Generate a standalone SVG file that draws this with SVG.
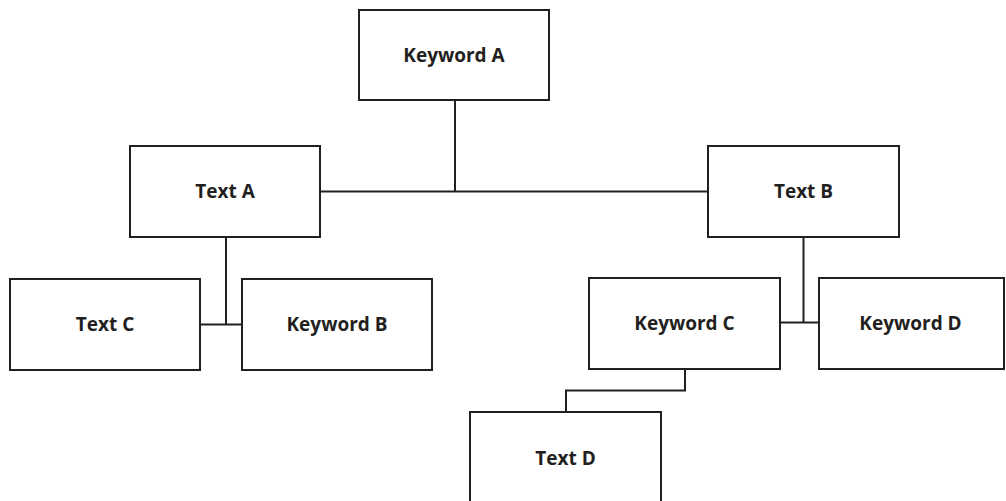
<svg xmlns="http://www.w3.org/2000/svg" width="1006" height="501" viewBox="0 0 1006 501">
<style>
.box{fill:#fff;stroke:#231f20;stroke-width:2}
.lbl{font-family:"Open Sans","Liberation Sans",sans-serif;font-weight:700;font-size:19px;fill:#231f20;text-anchor:middle;dominant-baseline:central}
.conn{fill:none;stroke:#231f20;stroke-width:2}
</style>
<rect width="1006" height="501" fill="#fff"/>
<g id="connectors">
<path class="conn" d="M455,100 V191.5"/>
<path class="conn" d="M320,191.5 H708"/>
<path class="conn" d="M226,237 V324.5"/>
<path class="conn" d="M200,324.5 H242"/>
<path class="conn" d="M803.5,237 V322.5"/>
<path class="conn" d="M780,322.5 H819"/>
<path class="conn" d="M685,369 V390.5 H566 V412"/>
</g>
<g id="keywordA"><rect class="box" x="359" y="10" width="190" height="90"/><text class="lbl" x="454" y="54.5">Keyword A</text></g>
<g id="textA"><rect class="box" x="130" y="146" width="190" height="91"/><text class="lbl" x="225" y="191">Text A</text></g>
<g id="textB"><rect class="box" x="708" y="146" width="191" height="91"/><text class="lbl" x="803.5" y="191">Text B</text></g>
<g id="textC"><rect class="box" x="10" y="279" width="190" height="91"/><text class="lbl" x="105" y="324">Text C</text></g>
<g id="keywordB"><rect class="box" x="242" y="279" width="190" height="91"/><text class="lbl" x="337" y="324">Keyword B</text></g>
<g id="keywordC"><rect class="box" x="589" y="278" width="191" height="91"/><text class="lbl" x="684.5" y="323">Keyword C</text></g>
<g id="keywordD"><rect class="box" x="819" y="278" width="185" height="91"/><text class="lbl" x="910.5" y="323">Keyword D</text></g>
<g id="textD"><rect class="box" x="470" y="412" width="191" height="92"/><text class="lbl" x="565.5" y="457.5">Text D</text></g>
</svg>
